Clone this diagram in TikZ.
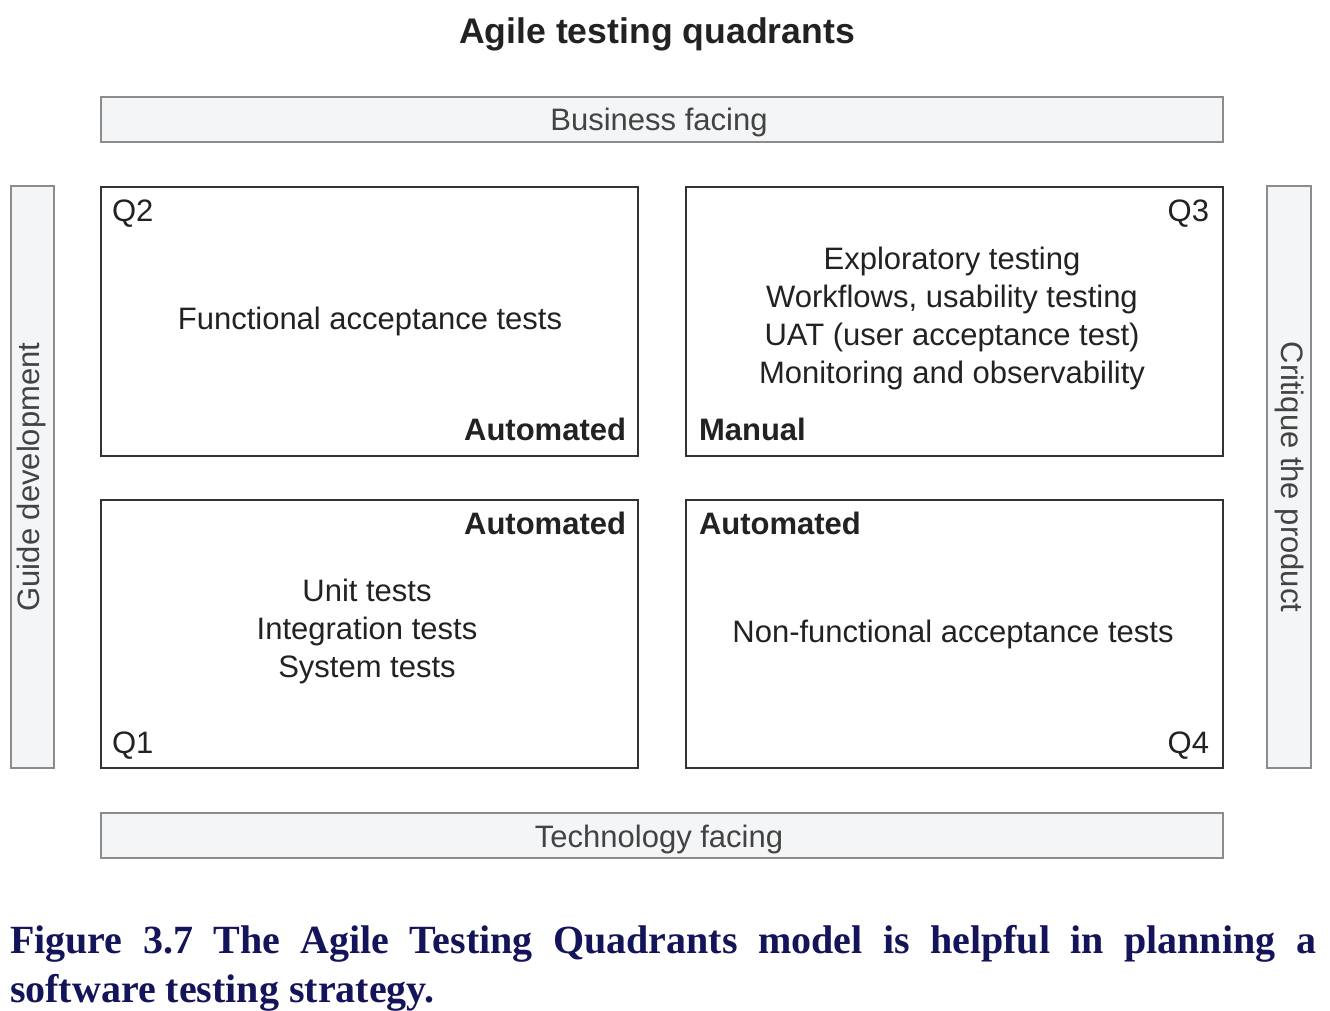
\documentclass[tikz,border=0pt]{standalone}
\usepackage{fontspec}
\setmainfont{Liberation Sans}
\newfontfamily\capfont{Liberation Serif}
\definecolor{ink}{HTML}{222222}
\definecolor{barfill}{HTML}{F4F5F7}
\definecolor{barline}{HTML}{8C8C8C}
\definecolor{boxline}{HTML}{333333}
\definecolor{navy}{HTML}{14145A}
\begin{document}
\begin{tikzpicture}[x=1pt,y=-1pt,
  every node/.style={inner sep=0pt,outer sep=0pt,text=ink},
  bar/.style={draw=barline,line width=2pt,fill=barfill},
  quad/.style={draw=boxline,line width=2pt,fill=white},
  body/.style={font=\fontsize{31}{38}\selectfont},
  strong/.style={font=\fontsize{31}{38}\selectfont\bfseries},
  lines/.style={body,align=center,anchor=base}
]
\useasboundingbox (0,0) rectangle (1330,1010);

% title
\node[font=\fontsize{35.6}{40}\selectfont\bfseries,anchor=base] (title) at (657,43) {Agile testing quadrants};

% axis bars
\node[bar,minimum width=1122pt,minimum height=45pt] (business) at (662,119.5) {};
\node[body,anchor=base,text=ink!85] (businesst) at (659,130) {Business facing};
\node[bar,minimum width=1122pt,minimum height=45pt] (technology) at (662,835.5) {};
\node[body,anchor=base,text=ink!85] (technologyt) at (659,847) {Technology facing};
\node[bar,minimum width=43pt,minimum height=582pt] (guide) at (32.5,477) {};
\node[body,rotate=90,text=ink!85] (guidet) at (31,477) {Guide development};
\node[bar,minimum width=44pt,minimum height=582pt] (critique) at (1289,477) {};
\node[body,rotate=-90,text=ink!85] (critiquet) at (1289,477) {Critique the product};

% quadrant boxes
\node[quad,minimum width=537pt,minimum height=269pt] (q2) at (369.5,321.5) {};
\node[quad,minimum width=537pt,minimum height=269pt] (q3) at (954.5,321.5) {};
\node[quad,minimum width=537pt,minimum height=268pt] (q1) at (369.5,634) {};
\node[quad,minimum width=537pt,minimum height=268pt] (q4) at (954.5,634) {};

% Q2
\node[body,anchor=base west] (q2id) at (112,221) {Q2};
\node[body,anchor=base] (q2text) at (370,329) {Functional acceptance tests};
\node[strong,anchor=base east] (q2mode) at (626,440) {Automated};

% Q3 (base anchor sits on the last line)
\node[body,anchor=base east] (q3id) at (1209,221) {Q3};
\node[lines] (q3text) at (952,383) {Exploratory testing\\Workflows, usability testing\\UAT (user acceptance test)\\Monitoring and observability};
\node[strong,anchor=base west] (q3mode) at (699,440) {Manual};

% Q1
\node[strong,anchor=base east] (q1mode) at (626,534) {Automated};
\node[lines] (q1text) at (367,677) {Unit tests\\Integration tests\\System tests};
\node[body,anchor=base west] (q1id) at (112,753) {Q1};

% Q4
\node[strong,anchor=base west] (q4mode) at (699,534) {Automated};
\node[body,anchor=base] (q4text) at (953,642) {Non-functional acceptance tests};
\node[body,anchor=base east] (q4id) at (1209,753) {Q4};

% caption
\node[anchor=north west,text width=1306pt,align=justify,text=navy,
      font=\capfont\bfseries\fontsize{40}{49}\selectfont] (caption) at (10,925)
  {Figure 3.7 The Agile Testing Quadrants model is helpful in planning a\linebreak \mbox{software} testing strategy.};
\end{tikzpicture}
\end{document}
